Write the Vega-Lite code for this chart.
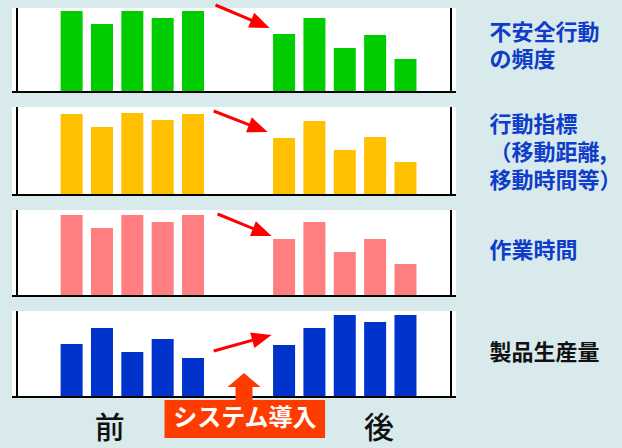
{
  "$schema": "https://vega.github.io/schema/vega-lite/v6.json",
  "background": "#d9eaed",
  "padding": {"left": 11, "top": 3, "right": 0, "bottom": 10},
  "spacing": 15,
  "bounds": "flush",
  "config": {
    "view": {"fill": "white", "stroke": null},
    "axis": {"disable": true},
    "font": "Noto Sans CJK JP"
  },
  "datasets": {
    "bars": [
      {"panel": 1, "slot": 0, "value": 81}, {"panel": 1, "slot": 1, "value": 68}, {"panel": 1, "slot": 2, "value": 81}, {"panel": 1, "slot": 3, "value": 74}, {"panel": 1, "slot": 4, "value": 81},
      {"panel": 1, "slot": 7, "value": 58}, {"panel": 1, "slot": 8, "value": 74}, {"panel": 1, "slot": 9, "value": 44}, {"panel": 1, "slot": 10, "value": 57}, {"panel": 1, "slot": 11, "value": 33},
      {"panel": 2, "slot": 0, "value": 81}, {"panel": 2, "slot": 1, "value": 68}, {"panel": 2, "slot": 2, "value": 82}, {"panel": 2, "slot": 3, "value": 75}, {"panel": 2, "slot": 4, "value": 81},
      {"panel": 2, "slot": 7, "value": 57}, {"panel": 2, "slot": 8, "value": 74}, {"panel": 2, "slot": 9, "value": 45}, {"panel": 2, "slot": 10, "value": 58}, {"panel": 2, "slot": 11, "value": 33},
      {"panel": 3, "slot": 0, "value": 81}, {"panel": 3, "slot": 1, "value": 68}, {"panel": 3, "slot": 2, "value": 81}, {"panel": 3, "slot": 3, "value": 74}, {"panel": 3, "slot": 4, "value": 81},
      {"panel": 3, "slot": 7, "value": 57}, {"panel": 3, "slot": 8, "value": 74}, {"panel": 3, "slot": 9, "value": 44}, {"panel": 3, "slot": 10, "value": 57}, {"panel": 3, "slot": 11, "value": 32},
      {"panel": 4, "slot": 0, "value": 53}, {"panel": 4, "slot": 1, "value": 69}, {"panel": 4, "slot": 2, "value": 45}, {"panel": 4, "slot": 3, "value": 58}, {"panel": 4, "slot": 4, "value": 39},
      {"panel": 4, "slot": 7, "value": 52}, {"panel": 4, "slot": 8, "value": 69}, {"panel": 4, "slot": 9, "value": 82}, {"panel": 4, "slot": 10, "value": 75}, {"panel": 4, "slot": 11, "value": 82}
    ],
    "one": [{}]
  },
  "vconcat": [
    {
      "width": 444, "height": 84,
      "layer": [
        {"data": {"name": "bars"}, "transform": [{"filter": "datum.panel === 1"}],
         "mark": {"type": "bar", "width": 22, "color": "#00cc00"},
         "encoding": {"x": {"field": "slot", "type": "quantitative", "scale": {"domain": [-1.8, 12.5], "nice": false, "zero": false}},
                      "y": {"field": "value", "type": "quantitative", "scale": {"domain": [0, 84], "nice": false}}}},
        {"data": {"name": "one"}, "mark": {"type": "rule", "color": "black", "strokeWidth": 2}, "encoding": {"x": {"datum": -1.8}}},
        {"data": {"name": "one"}, "mark": {"type": "rule", "color": "black", "strokeWidth": 2}, "encoding": {"x": {"datum": 12.5}}},
        {"data": {"name": "one"}, "mark": {"type": "rule", "color": "black", "strokeWidth": 2}, "encoding": {"y": {"datum": 0}}},
        {"data": {"name": "one"}, "mark": {"type": "rule", "color": "#ff0000", "strokeWidth": 3},
         "encoding": {"x": {"datum": 4.74}, "y": {"datum": 87}, "x2": {"datum": 6.22}, "y2": {"datum": 67.9}}},
        {"data": {"name": "one"}, "mark": {"type": "point", "filled": true, "opacity": 1, "color": "#ff0000", "shape": "M0,-1L0.8,1L-0.8,1Z", "size": 400, "angle": 112.7},
         "encoding": {"x": {"datum": 6.22}, "y": {"datum": 67.9}}},
        {"data": {"name": "one"}, "mark": {"type": "text", "text": "不安全行動", "align": "left", "baseline": "middle", "fontSize": 22, "fontWeight": "bold", "color": "#0f3cc9"},
         "encoding": {"x": {"datum": 13.77}, "y": {"datum": 59}}},
        {"data": {"name": "one"}, "mark": {"type": "text", "text": "の頻度", "align": "left", "baseline": "middle", "fontSize": 22, "fontWeight": "bold", "color": "#0f3cc9"},
         "encoding": {"x": {"datum": 13.77}, "y": {"datum": 32}}}
      ]
    },
    {
      "width": 444, "height": 88,
      "layer": [
        {"data": {"name": "bars"}, "transform": [{"filter": "datum.panel === 2"}],
         "mark": {"type": "bar", "width": 22, "color": "#ffc000"},
         "encoding": {"x": {"field": "slot", "type": "quantitative", "scale": {"domain": [-1.8, 12.5], "nice": false, "zero": false}},
                      "y": {"field": "value", "type": "quantitative", "scale": {"domain": [0, 88], "nice": false}}}},
        {"data": {"name": "one"}, "mark": {"type": "rule", "color": "black", "strokeWidth": 2}, "encoding": {"x": {"datum": -1.8}}},
        {"data": {"name": "one"}, "mark": {"type": "rule", "color": "black", "strokeWidth": 2}, "encoding": {"x": {"datum": 12.5}}},
        {"data": {"name": "one"}, "mark": {"type": "rule", "color": "black", "strokeWidth": 2}, "encoding": {"y": {"datum": 0}}},
        {"data": {"name": "one"}, "mark": {"type": "rule", "color": "#ff0000", "strokeWidth": 3},
         "encoding": {"x": {"datum": 4.68}, "y": {"datum": 84}, "x2": {"datum": 6.15}, "y2": {"datum": 66.6}}},
        {"data": {"name": "one"}, "mark": {"type": "point", "filled": true, "opacity": 1, "color": "#ff0000", "shape": "M0,-1L0.8,1L-0.8,1Z", "size": 400, "angle": 110.9},
         "encoding": {"x": {"datum": 6.15}, "y": {"datum": 66.6}}},
        {"data": {"name": "one"}, "mark": {"type": "text", "text": "行動指標", "align": "left", "baseline": "middle", "fontSize": 22, "fontWeight": "bold", "color": "#0f3cc9"},
         "encoding": {"x": {"datum": 13.77}, "y": {"datum": 70}}},
        {"data": {"name": "one"}, "mark": {"type": "text", "text": "（移動距離,", "align": "left", "baseline": "middle", "fontSize": 22, "fontWeight": "bold", "color": "#0f3cc9"},
         "encoding": {"x": {"datum": 13.77}, "y": {"datum": 42}}},
        {"data": {"name": "one"}, "mark": {"type": "text", "text": "移動時間等）", "align": "left", "baseline": "middle", "fontSize": 22, "fontWeight": "bold", "color": "#0f3cc9"},
         "encoding": {"x": {"datum": 13.77}, "y": {"datum": 14}}}
      ]
    },
    {
      "width": 444, "height": 86,
      "layer": [
        {"data": {"name": "bars"}, "transform": [{"filter": "datum.panel === 3"}],
         "mark": {"type": "bar", "width": 22, "color": "#ff7f80"},
         "encoding": {"x": {"field": "slot", "type": "quantitative", "scale": {"domain": [-1.8, 12.5], "nice": false, "zero": false}},
                      "y": {"field": "value", "type": "quantitative", "scale": {"domain": [0, 86], "nice": false}}}},
        {"data": {"name": "one"}, "mark": {"type": "rule", "color": "black", "strokeWidth": 2}, "encoding": {"x": {"datum": -1.8}}},
        {"data": {"name": "one"}, "mark": {"type": "rule", "color": "black", "strokeWidth": 2}, "encoding": {"x": {"datum": 12.5}}},
        {"data": {"name": "one"}, "mark": {"type": "rule", "color": "black", "strokeWidth": 2}, "encoding": {"y": {"datum": 0}}},
        {"data": {"name": "one"}, "mark": {"type": "rule", "color": "#ff0000", "strokeWidth": 3},
         "encoding": {"x": {"datum": 4.81}, "y": {"datum": 82}, "x2": {"datum": 6.28}, "y2": {"datum": 63.7}}},
        {"data": {"name": "one"}, "mark": {"type": "point", "filled": true, "opacity": 1, "color": "#ff0000", "shape": "M0,-1L0.8,1L-0.8,1Z", "size": 400, "angle": 111.8},
         "encoding": {"x": {"datum": 6.28}, "y": {"datum": 63.7}}},
        {"data": {"name": "one"}, "mark": {"type": "text", "text": "作業時間", "align": "left", "baseline": "middle", "fontSize": 22, "fontWeight": "bold", "color": "#0f3cc9"},
         "encoding": {"x": {"datum": 13.77}, "y": {"datum": 45}}}
      ]
    },
    {
      "width": 444, "height": 86,
      "layer": [
        {"data": {"name": "bars"}, "transform": [{"filter": "datum.panel === 4"}],
         "mark": {"type": "bar", "width": 22, "color": "#0033cc"},
         "encoding": {"x": {"field": "slot", "type": "quantitative", "scale": {"domain": [-1.8, 12.5], "nice": false, "zero": false}},
                      "y": {"field": "value", "type": "quantitative", "scale": {"domain": [0, 86], "nice": false}}}},
        {"data": {"name": "one"}, "mark": {"type": "rule", "color": "black", "strokeWidth": 2}, "encoding": {"x": {"datum": -1.8}}},
        {"data": {"name": "one"}, "mark": {"type": "rule", "color": "black", "strokeWidth": 2}, "encoding": {"x": {"datum": 12.5}}},
        {"data": {"name": "one"}, "mark": {"type": "rule", "color": "black", "strokeWidth": 2}, "encoding": {"y": {"datum": 0}}},
        {"data": {"name": "one"}, "mark": {"type": "rule", "color": "#ff0000", "strokeWidth": 3},
         "encoding": {"x": {"datum": 4.68}, "y": {"datum": 46}, "x2": {"datum": 6.27}, "y2": {"datum": 59.4}}},
        {"data": {"name": "one"}, "mark": {"type": "point", "filled": true, "opacity": 1, "color": "#ff0000", "shape": "M0,-1L0.8,1L-0.8,1Z", "size": 400, "angle": 74.8},
         "encoding": {"x": {"datum": 6.27}, "y": {"datum": 59.4}}},
        {"data": {"name": "one"}, "mark": {"type": "text", "text": "製品生産量", "align": "left", "baseline": "middle", "fontSize": 22, "fontWeight": "bold", "color": "#111111"},
         "encoding": {"x": {"datum": 13.77}, "y": {"datum": 44}}},
        {"data": {"name": "one"}, "mark": {"type": "rect", "color": "#ff3c00"},
         "encoding": {"x": {"datum": 3.06}, "x2": {"datum": 8.35}, "y": {"datum": -3}, "y2": {"datum": -41}}},
        {"data": {"name": "one"}, "mark": {"type": "point", "filled": true, "opacity": 1, "color": "#ff3c00", "shape": "M0,-0.818L1,0.03L0.515,0.03L0.515,0.9L-0.515,0.9L-0.515,0.03L-1,0.03Z", "size": 1089},
         "encoding": {"x": {"datum": 5.68}, "y": {"datum": 10.5}}},
        {"data": {"name": "one"}, "mark": {"type": "text", "text": "システム導入", "align": "center", "baseline": "middle", "fontSize": 24, "fontWeight": "bold", "color": "white"},
         "encoding": {"x": {"datum": 5.71}, "y": {"datum": -22}}},
        {"data": {"name": "one"}, "mark": {"type": "text", "text": "前", "align": "center", "baseline": "middle", "fontSize": 30, "fontWeight": 500, "color": "#111111"},
         "encoding": {"x": {"datum": 1.26}, "y": {"datum": -32}}},
        {"data": {"name": "one"}, "mark": {"type": "text", "text": "後", "align": "center", "baseline": "middle", "fontSize": 30, "fontWeight": 500, "color": "#111111"},
         "encoding": {"x": {"datum": 10.13}, "y": {"datum": -32}}}
      ]
    }
  ]
}
